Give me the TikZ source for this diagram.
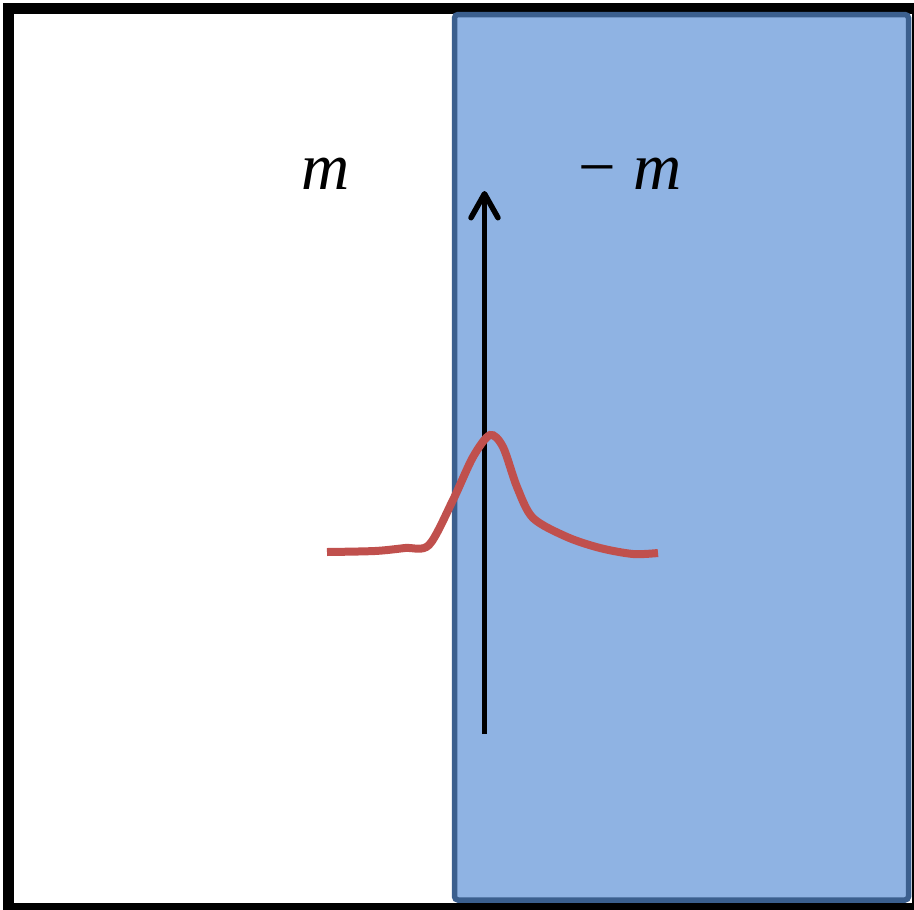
\documentclass[tikz,border=0pt]{standalone}
\usepackage{fontspec}
\setmainfont{Liberation Serif}
\usetikzlibrary{
  arrows.meta,
  positioning
}
\definecolor{azulclaro}{HTML}{8FB3E3}
\definecolor{azulborda}{HTML}{3B5F8E}
\definecolor{vermelho}{HTML}{C0504D}

\begin{document}
\begin{tikzpicture}[
x=0.02cm,y=-0.02cm,
moldura/.style={
draw=black,
line width=0.22cm
},
regiao/.style={
draw=azulborda,
fill=azulclaro,
line width=0.11cm,
rounded corners=2pt
},
rotulo/.style={
anchor=base,
inner sep=0pt,
font=\fontsize{38}{40}\selectfont
},
seta/.style={-{Straight Barb[length=0.48cm,width=0.54cm,line cap=round,line join=round]},line width=0.11cm},
onda/.style={draw=vermelho,line width=0.16cm}
]

\useasboundingbox (0,0) rectangle (914,910);
\clip (0,0) rectangle (914,910);

\draw[moldura] (8.5,8.5) rectangle (917,908.5);
\draw[regiao] (454.5,14.5) rectangle (908.5,900);

\node[rotulo] (massa) at (326,189) {\textit{m}};
\node[rotulo] (menosmassa) at (630,189) {−\ \textit{m}};

\coordinate (base) at (484.5,734);
\coordinate (topo) at (484.5,191);
\draw[seta] (base) -- (topo);

\draw[onda] plot[smooth,tension=0.5] coordinates {
(327,552) (375,551) (405,548) (429,545)
(453,500) (473,457) (490,435) (503,447) (517,487)
(533,518) (567,537) (600,548) (633,554) (658,553)
};

\end{tikzpicture}
\end{document}
